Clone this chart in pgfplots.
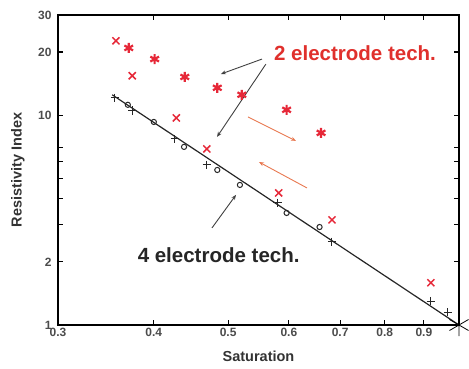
\documentclass[border=0pt]{standalone}
\usepackage{pgfplots}
\pgfplotsset{compat=1.18}
\usetikzlibrary{arrows.meta}
\usepackage{fontspec}
\setmainfont{Liberation Sans}
\definecolor{rmark}{HTML}{E62838}
\definecolor{rtext}{HTML}{E0302C}
\definecolor{oarrow}{HTML}{E87850}
\begin{document}
\begin{tikzpicture}
\begin{loglogaxis}[
  name=ax, scale only axis, width=401pt, height=310pt,
  xmin=0.3, xmax=1, ymin=1, ymax=30,
  xtick={0.3,0.4,0.5,0.6,0.7,0.8,0.9},
  xticklabels={0.3,0.4,0.5,0.6,0.7,0.8,0.9},
  ytick={1,2,3,4,5,6,7,10,20,30},
  yticklabels={1,2,,,,,,10,20,30},
  minor xtick={}, minor ytick={},
  axis line style={line width=1.8pt},
  tick style={black, line width=1.2pt},
  major tick length=5pt,
  tick align=inside,
  xticklabel style={font=\bfseries\fontsize{12}{14}\selectfont, text=black!70},
  yticklabel style={font=\bfseries\fontsize{12}{14}\selectfont, text=black!70, xshift=-3pt},
  xlabel={Saturation}, ylabel={Resistivity Index},
  xlabel style={at={(axis description cs:0.5,-0.1)}, anchor=center, font=\bfseries\fontsize{14.5}{16}\selectfont, text=black!80},
  ylabel style={at={(axis description cs:-0.1,0.5)}, anchor=center, font=\bfseries\fontsize{14.5}{16}\selectfont, text=black!80},
  clip=false,
]
\addplot[black!85, line width=1.2pt] coordinates {(0.353,12.5) (1,1)};
\addplot[only marks, mark=x, mark size=5pt, rmark, line width=1.5pt] coordinates {
(0.357,22.6) (0.375,15.4) (0.428,9.7) (0.469,6.9) (0.582,4.26) (0.683,3.17) (0.919,1.59)};
\addplot[only marks, mark=asterisk, mark size=5pt, rmark, line width=2.2pt] coordinates {
(0.371,20.9) (0.401,18.5) (0.439,15.2) (0.484,13.5) (0.521,12.5) (0.596,10.6) (0.661,8.23)};
\addplot[only marks, mark=+, mark size=4.2pt, black!85, line width=1pt] coordinates {
(0.356,12.1) (0.375,10.5) (0.426,7.70) (0.469,5.79) (0.580,3.82) (0.683,2.49) (0.919,1.30) (0.967,1.15)};
\addplot[only marks, mark=o, mark size=2.6pt, black!85, line width=1pt] coordinates {
(0.370,11.2) (0.400,9.28) (0.438,7.06) (0.484,5.48) (0.518,4.65) (0.596,3.42) (0.658,2.93)};
\addplot[only marks, mark=asterisk, mark size=11pt, black, line width=0.8pt] coordinates {(1,1)};

\node[text=rtext, font=\bfseries\fontsize{20.5}{24}\selectfont] at (axis cs:0.732,19.8) {2 electrode tech.};
\node[text=black!85, font=\bfseries\fontsize{20.5}{24}\selectfont] at (axis cs:0.486,2.156) {4 electrode tech.};
\draw[black!75, line width=0.9pt, -{Stealth[length=5pt,width=4pt]}] (axis cs:0.5535,18.5) -- (axis cs:0.4893,15.7);
\draw[black!75, line width=0.9pt, -{Stealth[length=5pt,width=4pt]}] (axis cs:0.560,17.5) -- (axis cs:0.4836,7.88);
\draw[black!75, line width=0.9pt, -{Stealth[length=5pt,width=4pt]}] (axis cs:0.4763,2.90) -- (axis cs:0.512,4.17);
\draw[oarrow, line width=0.9pt, -{Stealth[length=5pt,width=4pt]}] (axis cs:0.5307,9.81) -- (axis cs:0.613,7.54);
\draw[oarrow, line width=0.9pt, -{Stealth[length=5pt,width=4pt]}] (axis cs:0.6335,4.50) -- (axis cs:0.5485,5.98);
\end{loglogaxis}
\pgfresetboundingbox
\path[use as bounding box] (ax.south west) ++(-58pt,-43pt) rectangle ++(469pt,368pt);
\end{tikzpicture}
\end{document}
